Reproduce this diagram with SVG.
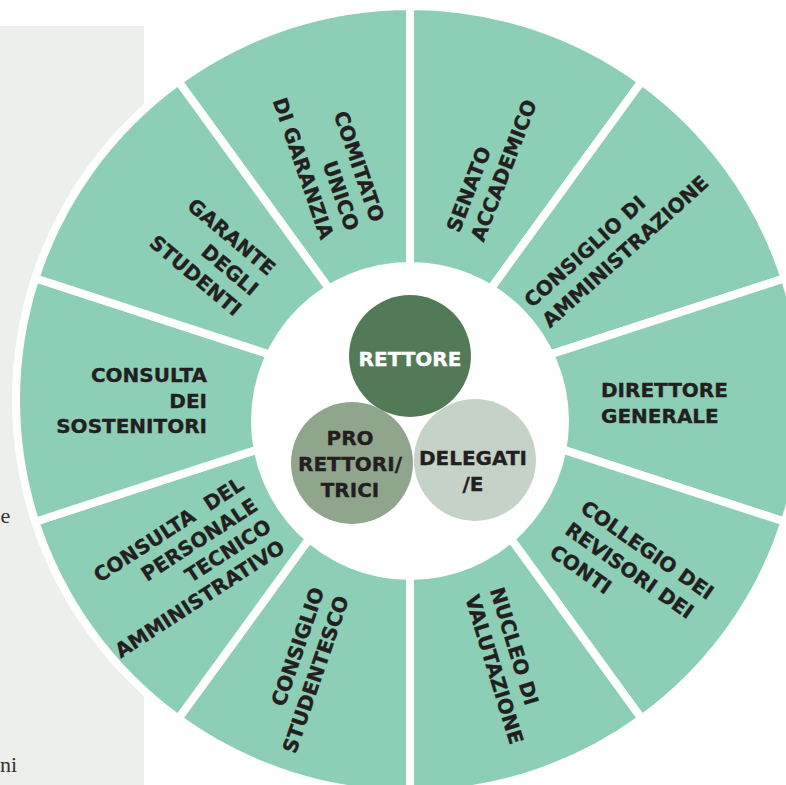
<svg xmlns="http://www.w3.org/2000/svg" width="786" height="785" viewBox="0 0 786 785">
<style>
.seg{fill:#8DCFB6;stroke:#ffffff;stroke-width:8;stroke-linejoin:round}
.lbl{font-family:"DejaVu Sans","Liberation Sans",sans-serif;font-weight:bold;font-size:20px;fill:#231F20;stroke:#231F20;stroke-width:0.35}
.mid{text-anchor:middle}
.wht{fill:#ffffff;stroke:#ffffff}
.frag{font-family:"Liberation Serif",serif;font-size:22px;fill:#333333}
</style>
<rect x="0" y="26" width="144" height="759" fill="#EDEFEC"/>
<text class="frag" x="0.5" y="523">e</text>
<text class="frag" x="17" y="772" text-anchor="end">ni</text>
<circle cx="410" cy="400" r="397" fill="#ffffff"/>
<g id="connectors"/>
<g id="comitato">
<path class="seg" d="M410 400 L178.4 81.3 A394 394 0 0 1 410 6 Z"/>
<text class="lbl" transform="translate(346,232) rotate(71)" text-anchor="end"><tspan x="0" y="-26.7">COMITATO</tspan><tspan x="0" y="0">UNICO</tspan><tspan x="0" y="26.7">DI GARANZIA</tspan></text>
</g>
<g id="senato">
<path class="seg" d="M410 400 L410 6 A394 394 0 0 1 641.6 81.3 Z"/>
<text class="lbl" transform="translate(459.3,233.5) rotate(-69)"><tspan x="0" y="0">SENATO</tspan><tspan x="0" y="26">ACCADEMICO</tspan></text>
</g>
<g id="consiglio-amministrazione">
<path class="seg" d="M410 400 L641.6 81.3 A394 394 0 0 1 784.7 278.3 Z"/>
<text class="lbl" transform="translate(532,308.5) rotate(-42)"><tspan x="0" y="0">CONSIGLIO DI</tspan><tspan x="0" y="27">AMMINISTRAZIONE</tspan></text>
</g>
<g id="direttore">
<path class="seg" d="M410 400 L784.7 278.3 A394 394 0 0 1 784.7 521.7 Z"/>
<text class="lbl"><tspan x="601" y="397">DIRETTORE</tspan><tspan x="601" y="423">GENERALE</tspan></text>
</g>
<g id="collegio">
<path class="seg" d="M410 400 L784.7 521.7 A394 394 0 0 1 641.6 718.7 Z"/>
<text class="lbl" transform="translate(579.2,510.9) rotate(35)"><tspan x="0" y="0">COLLEGIO DEI</tspan><tspan x="0" y="27">REVISORI DEI</tspan><tspan x="0" y="54">CONTI</tspan></text>
</g>
<g id="nucleo">
<path class="seg" d="M410 400 L641.6 718.7 A394 394 0 0 1 410 794 Z"/>
<text class="lbl" transform="translate(489.8,589.9) rotate(73)"><tspan x="0" y="0">NUCLEO DI</tspan><tspan x="0" y="26">VALUTAZIONE</tspan></text>
</g>
<g id="consiglio-studentesco">
<path class="seg" d="M410 400 L410 794 A394 394 0 0 1 178.4 718.7 Z"/>
<text class="lbl" transform="translate(324.5,590.4) rotate(-71)" text-anchor="end"><tspan x="0" y="0">CONSIGLIO</tspan><tspan x="0" y="26">STUDENTESCO</tspan></text>
</g>
<g id="consulta-personale">
<path class="seg" d="M410 400 L178.4 718.7 A394 394 0 0 1 35.3 521.7 Z"/>
<text class="lbl" transform="translate(245.5,488.1) rotate(-33)" text-anchor="end"><tspan x="0" y="0" word-spacing="8">CONSULTA DEL</tspan><tspan x="0" y="25">PERSONALE</tspan><tspan x="0" y="50">TECNICO</tspan><tspan x="0" y="75">AMMINISTRATIVO</tspan></text>
</g>
<g id="consulta-sostenitori">
<path class="seg" d="M410 400 L35.3 521.7 A394 394 0 0 1 35.3 278.3 Z"/>
<text class="lbl" text-anchor="end"><tspan x="207" y="382">CONSULTA</tspan><tspan x="207" y="408">DEI</tspan><tspan x="207" y="433">SOSTENITORI</tspan></text>
</g>
<g id="garante">
<path class="seg" d="M410 400 L35.3 278.3 A394 394 0 0 1 178.4 81.3 Z"/>
<text class="lbl" transform="translate(267.9,276.6) rotate(40)" text-anchor="end"><tspan x="0" y="0">GARANTE</tspan><tspan x="0" y="26.4">DEGLI</tspan><tspan x="0" y="52.8">STUDENTI</tspan></text>
</g>
<circle id="hub" cx="410" cy="421" r="159" fill="#ffffff"/>
<g id="rettore">
<circle cx="410" cy="356" r="61" fill="#537A56"/>
<text class="lbl mid wht" x="410" y="366">RETTORE</text>
</g>
<g id="pro-rettori">
<circle cx="352" cy="463" r="61" fill="#8FA68C"/>
<text class="lbl mid"><tspan x="350" y="445">PRO</tspan><tspan x="350" y="471">RETTORI/</tspan><tspan x="350" y="497">TRICI</tspan></text>
</g>
<g id="delegati">
<circle cx="475" cy="460" r="61" fill="#C5D2C7"/>
<text class="lbl mid"><tspan x="473" y="465">DELEGATI</tspan><tspan x="473" y="491">/E</tspan></text>
</g>
</svg>
